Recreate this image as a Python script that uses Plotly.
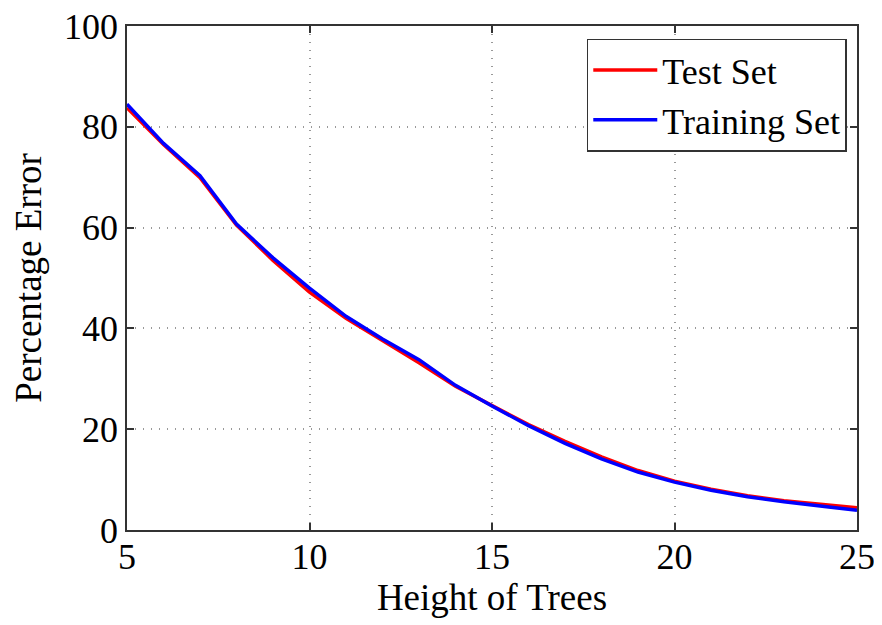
import plotly.graph_objects as go

heights = list(range(5, 26))
test_err = [83.8, 76.5, 69.9, 60.5, 53.5, 47.2, 42.0, 37.6, 33.2, 28.5, 24.7,
            20.9, 17.6, 14.5, 11.8, 9.7, 8.1, 6.8, 5.8, 5.1, 4.4]
train_err = [84.5, 76.7, 70.3, 60.7, 54.0, 48.0, 42.4, 37.9, 33.8, 28.7, 24.6,
             20.7, 17.2, 14.1, 11.5, 9.5, 7.9, 6.6, 5.6, 4.7, 3.9]

x_ticks = [5, 10, 15, 20, 25]
y_ticks = [0, 20, 40, 60, 80, 100]

FONT = "Liberation Serif"

fig = go.Figure()
fig.add_trace(go.Scatter(x=heights, y=test_err, mode="lines", name="Test Set",
                         line=dict(color="#ff0000", width=3.5)))
fig.add_trace(go.Scatter(x=heights, y=train_err, mode="lines", name="Training Set",
                         line=dict(color="#0000ff", width=3.5)))

axis_common = dict(
    showline=True, linecolor="#333333", linewidth=1.5, mirror="ticks",
    ticks="inside", ticklen=7, tickcolor="#333333", tickwidth=1.5,
    showgrid=True, gridcolor="#999999", griddash="1px,7px", gridwidth=1.5,
    zeroline=False, tickfont=dict(size=36, family=FONT, color="black"),
    automargin=False, ticklabeloverflow="allow",
)

fig.update_layout(
    width=874, height=617,
    paper_bgcolor="white", plot_bgcolor="white",
    margin=dict(l=119, r=25, t=18, b=95),
    font=dict(family=FONT, color="black"),
    xaxis=dict(range=[5, 25], tickvals=x_ticks, ticklabelstandoff=-6,
               title=dict(text="Height of Trees", font=dict(size=37, family=FONT), standoff=0),
               **axis_common),
    yaxis=dict(range=[0, 100], tickvals=y_ticks,
               title=dict(text="Percentage Error", font=dict(size=37, family=FONT), standoff=14),
               **axis_common),
    legend=dict(x=0.986, y=0.975, xanchor="right", yanchor="top",
                bgcolor="white", bordercolor="#333333", borderwidth=1.5,
                font=dict(size=36, family=FONT), itemwidth=64,
                tracegroupgap=0),
    showlegend=True,
)

fig.write_html("out.html")
